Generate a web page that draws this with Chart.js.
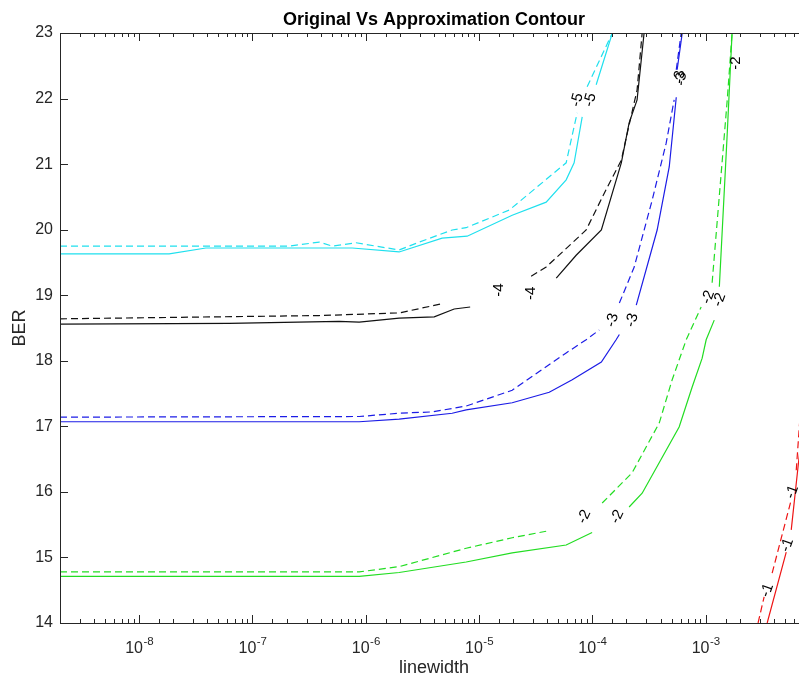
<!DOCTYPE html>
<html><head><meta charset="utf-8">
<script src="https://cdn.jsdelivr.net/npm/chart.js@4.4.1/dist/chart.umd.min.js"></script>
<style>html,body{margin:0;padding:0;overflow:hidden;background:#fff}#wrap{width:868px;height:680px}</style>
</head><body><div id="wrap"><canvas id="c" width="868" height="680"></canvas></div>
<script>
// ---- data (x = linewidth, y = BER) ----
const cyanSolidX = [2e-9, 1.84e-8, 3.88e-8, 7.59e-7, 1.97e-6, 4.72e-6, 7.85e-6, 1.96e-5, 3.91e-5, 5.87e-5, 6.9e-5, 8.13e-5, null, 1.08e-4, 1.5e-4];
const cyanSolidY = [19.63, 19.63, 19.72, 19.72, 19.66, 19.87, 19.90, 20.22, 20.42, 20.76, 21.02, 21.72, null, 22.21, 23];
const cyanDashX = [2e-9, 2.11e-7, 3.88e-7, 5.05e-7, 8.2e-7, 1.97e-6, 2.96e-6, 5.79e-6, 7.69e-6, 1.85e-5, 5.87e-5, 6.5e-5, 7.34e-5, null, 8.99e-5, 1.5e-4];
const cyanDashY = [19.75, 19.75, 19.81, 19.75, 19.80, 19.69, 19.81, 19.995, 20.03, 20.30, 21.02, 21.37, 21.78, null, 22.18, 23];

const blackSolidX = [2e-9, 6.22e-8, 5.82e-7, 8.75e-7, 1.97e-6, 4.02e-6, 6.03e-6, 8.34e-6, null, 4.8e-5, 7.19e-5, 1.2e-4, 1.8e-4, 2.11e-4, 2.48e-4, 2.86e-4];
const blackSolidY = [18.56, 18.57, 18.60, 18.59, 18.65, 18.67, 18.79, 18.82, null, 19.26, 19.61, 19.995, 21.02, 21.63, 21.98, 23];
const blackDashX = [2e-9, 3.88e-7, 1.97e-6, 4.72e-6, null, 2.88e-5, 3.91e-5, 8.81e-5, 1.32e-4, 1.8e-4, 2.03e-4, 2.48e-4, 2.75e-4];
const blackDashY = [18.64, 18.69, 18.73, 18.87, null, 19.29, 19.43, 19.995, 20.61, 21.06, 21.47, 22.13, 23];

const blueSolidX = [2e-9, 8.75e-7, 1.97e-6, 5.79e-6, 7.69e-6, 1.96e-5, 4.16e-5, 6.64e-5, 1.2e-4, 1.62e-4, 1.73e-4, null, 2.44e-4, 3.73e-4, 4.77e-4, 5.5e-4, null, 5.6e-4, 6.21e-4];
const blueSolidY = [17.07, 17.07, 17.11, 17.20, 17.25, 17.36, 17.52, 17.71, 17.98, 18.32, 18.40, null, 18.85, 19.995, 20.96, 22.02, null, 22.44, 23];
const blueDashX = [2e-9, 8.75e-7, 1.97e-6, 3.86e-6, 7.69e-6, 1.96e-5, 5.87e-5, 8.81e-5, 1.15e-4, null, 1.73e-4, 2.34e-4, 3.37e-4, 4.48e-4, 5.27e-4, null, 5.5e-4, 6.08e-4];
const blueDashY = [17.14, 17.15, 17.20, 17.22, 17.31, 17.55, 18.12, 18.32, 18.47, null, 18.88, 19.43, 20.45, 21.32, 21.98, null, 22.44, 23];

const greenSolidX = [2e-9, 8.75e-7, 1.97e-6, 7.69e-6, 1.96e-5, 5.87e-5, 9.95e-5, null, 2.11e-4, 2.75e-4, 5.83e-4, 7.6e-4, 9.31e-4, 1.01e-3, 1.19e-3, null, 1.32e-3, 1.55e-3, 1.71e-3];
const greenSolidY = [14.71, 14.71, 14.77, 14.93, 15.07, 15.19, 15.38, null, 15.77, 15.98, 16.99, 17.60, 18.04, 18.32, 18.62, null, 19.13, 21.47, 23];
const greenDashX = [2e-9, 8.75e-7, 1.97e-6, 7.69e-6, 1.96e-5, 3.91e-5, null, 1.22e-4, 2.24e-4, 3.89e-4, 5.06e-4, 6.73e-4, 9.12e-4, null, 1.14e-3, 1.55e-3, 1.71e-3];
const greenDashY = [14.78, 14.78, 14.86, 15.14, 15.30, 15.40, null, 15.83, 16.29, 17.05, 17.71, 18.32, 18.82, null, 19.19, 21.98, 23];

const redSolidX = [3.49e-3, 5.14e-3, null, 5.69e-3, 6.56e-3, 7.57e-3];
const redSolidY = [14.0, 15.08, null, 15.42, 16.41, 17.40];
const redDashX = [2.9e-3, 3.28e-3, null, 3.86e-3, 5.69e-3, null, 6.3e-3, 6.97e-3];
const redDashY = [14.0, 14.40, null, 14.76, 15.88, null, 16.33, 17.40];

// contour level labels
const labelText = ['-5', '-5', '-4', '-4', '-3', '-3', '-3', '-3', '-2', '-2', '-2', '-2', '-2', '-1', '-1', '-1'];
const labelX = [7.34e-5, 9.57e-5, 1.5e-5, 2.88e-5, 1.5e-4, 2.24e-4, 5.9e-4, 6.1e-4, 8.48e-5, 1.66e-4, 1.05e-3, 1.32e-3, 1.86e-3, 3.49e-3, 5.23e-3, 5.81e-3];
const labelY = [21.98, 21.98, 19.08, 19.03, 18.62, 18.62, 22.33, 22.30, 15.62, 15.62, 18.97, 18.93, 22.54, 14.50, 15.19, 16.0];
const labelAngle = [-75, -75, -90, -90, -75, -75, -85, -85, -65, -65, -70, -70, -90, -70, -70, -70];

const yTicks = [14, 15, 16, 17, 18, 19, 20, 21, 22, 23];

// ---- build ----
const AXIS = '#262626';
const FONT = '"Liberation Sans", Arial, sans-serif';
function pts(xs, ys) { return xs.map((x, i) => ({ x: x, y: ys[i] })); }
function ds(xs, ys, color, dashed) {
  return { data: pts(xs, ys), borderColor: color, borderWidth: 1.2, borderDash: dashed ? [7, 4] : [],
           showLine: true, pointRadius: 0, fill: false, spanGaps: false, tension: 0 };
}
const datasets = [
  ds(cyanSolidX, cyanSolidY, '#1fe0ee', false), ds(cyanDashX, cyanDashY, '#1fe0ee', true),
  ds(blackSolidX, blackSolidY, '#111111', false), ds(blackDashX, blackDashY, '#111111', true),
  ds(blueSolidX, blueSolidY, '#1c1ce6', false), ds(blueDashX, blueDashY, '#1c1ce6', true),
  ds(greenSolidX, greenSolidY, '#22dd22', false), ds(greenDashX, greenDashY, '#22dd22', true),
  ds(redSolidX, redSolidY, '#ee1414', false), ds(redDashX, redDashY, '#ee1414', true)
];
function isDecade(v) { const e = Math.log10(v); return Math.abs(e - Math.round(e)) < 1e-6; }

const frame = {
  id: 'frame',
  afterDraw(chart) {
    const { ctx, chartArea: a, scales: { x, y } } = chart;
    ctx.save();
    ctx.strokeStyle = AXIS; ctx.lineWidth = 1;
    ctx.strokeRect(Math.round(a.left) + 0.5, Math.round(a.top) + 0.5, Math.round(a.right - a.left), Math.round(a.bottom - a.top));
    ctx.beginPath();
    x.ticks.forEach(t => {
      const px = Math.round(x.getPixelForValue(t.value)) + 0.5;
      const len = isDecade(t.value) ? 8 : 4;
      ctx.moveTo(px, a.bottom); ctx.lineTo(px, a.bottom - len);
      ctx.moveTo(px, a.top); ctx.lineTo(px, a.top + len);
    });
    y.ticks.forEach(t => {
      const py = Math.round(y.getPixelForValue(t.value)) + 0.5;
      ctx.moveTo(a.left, py); ctx.lineTo(a.left + 8, py);
      ctx.moveTo(a.right, py); ctx.lineTo(a.right - 8, py);
    });
    ctx.stroke();
    // decade tick labels 10^n
    ctx.fillStyle = AXIS;
    ctx.textBaseline = 'alphabetic'; ctx.textAlign = 'left';
    x.ticks.forEach(t => {
      if (!isDecade(t.value)) return;
      const px = x.getPixelForValue(t.value);
      const exp = String(Math.round(Math.log10(t.value)));
      ctx.font = '16px ' + FONT; const w1 = ctx.measureText('10').width;
      ctx.font = '11.5px ' + FONT; const w2 = ctx.measureText(exp).width;
      const x0 = px - (w1 + w2) / 2;
      ctx.font = '16px ' + FONT; ctx.fillText('10', x0, a.bottom + 30);
      ctx.font = '11.5px ' + FONT; ctx.fillText(exp, x0 + w1 + 0.5, a.bottom + 21.5);
    });
    // contour labels
    ctx.fillStyle = '#000';
    ctx.font = '15px ' + FONT;
    ctx.textAlign = 'center'; ctx.textBaseline = 'middle';
    labelText.forEach((t, i) => {
      ctx.save();
      ctx.translate(x.getPixelForValue(labelX[i]), y.getPixelForValue(labelY[i]));
      ctx.rotate(labelAngle[i] * Math.PI / 180);
      ctx.fillText(t, 0, 0);
      ctx.restore();
    });
    ctx.restore();
  }
};

new Chart(document.getElementById('c'), {
  type: 'scatter',
  data: { datasets },
  options: {
    responsive: false, animation: false, devicePixelRatio: 1,
    layout: { padding: 0 },
    plugins: {
      legend: { display: false }, tooltip: { enabled: false },
      title: { display: true, text: 'Original Vs Approximation Contour', color: '#000',
               font: { family: FONT, size: 18, weight: 'bold' }, padding: { top: 9, bottom: 2.4 } }
    },
    scales: {
      x: {
        type: 'logarithmic', min: 2e-9, max: 8e-3, position: 'bottom',
        grid: { display: false, drawTicks: false }, border: { display: false },
        ticks: { display: false, autoSkip: false, maxRotation: 0, minRotation: 0 },
        title: { display: true, text: 'linewidth', color: AXIS, font: { family: FONT, size: 18 }, padding: { top: 0, bottom: 1 } },
        afterFit(s) { s.height = 57; }
      },
      y: {
        min: 14, max: 23, position: 'left',
        grid: { display: false, drawTicks: false }, border: { display: false },
        afterBuildTicks(s) { s.ticks = yTicks.map(v => ({ value: v })); },
        ticks: { padding: 7, color: AXIS, font: { family: FONT, size: 16 } },
        title: { display: true, text: 'BER', color: AXIS, font: { family: FONT, size: 18 }, padding: { top: 9, bottom: 0 } },
        afterFit(s) { s.width = 60; }
      },
      y2: {
        min: 14, max: 23, position: 'right', display: true,
        grid: { display: false, drawTicks: false }, border: { display: false },
        ticks: { display: false },
        afterFit(s) { s.width = 60; }
      }
    }
  },
  plugins: [frame]
});
</script></body></html>
